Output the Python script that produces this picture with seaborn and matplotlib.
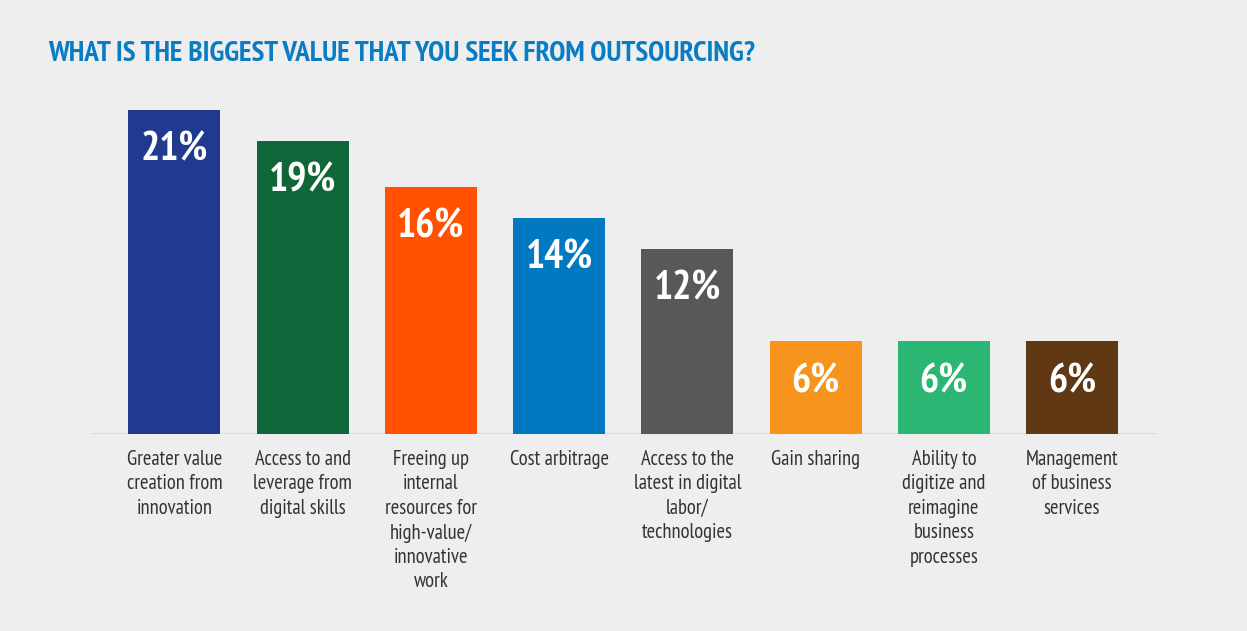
import matplotlib
matplotlib.use("Agg")
import matplotlib.pyplot as plt
import seaborn as sns
import pandas as pd

categories = [
    "Greater value\ncreation from\ninnovation",
    "Access to and\nleverage from\ndigital skills",
    "Freeing up\ninternal\nresources for\nhigh-value/\ninnovative\nwork",
    "Cost arbitrage",
    "Access to the\nlatest in digital\nlabor/\ntechnologies",
    "Gain sharing",
    "Ability to\ndigitize and\nreimagine\nbusiness\nprocesses",
    "Management\nof business\nservices",
]
values = [21, 19, 16, 14, 12, 6, 6, 6]
value_labels = ["21%", "19%", "16%", "14%", "12%", "6%", "6%", "6%"]
colors = ["#1f3a8f", "#0f6638", "#ff5100", "#0079c1",
          "#58585a", "#f7941d", "#2bb673", "#603813"]
title = "WHAT IS THE BIGGEST VALUE THAT YOU SEEK FROM OUTSOURCING?"

sns.set_theme(style="white")
plt.rcParams["font.family"] = ["PT Sans Narrow", "DejaVu Sans"]

BG = "#eeeeee"
fig = plt.figure(figsize=(12.47, 6.31), dpi=100, facecolor=BG)
ax = fig.add_axes([91 / 1247, 197 / 631, 1067 / 1247, 339.5 / 631])
ax.set_facecolor(BG)

df = pd.DataFrame({"cat": categories, "val": values})
sns.barplot(data=df, x="cat", y="val", hue="cat", palette=colors,
            width=0.717, dodge=False, legend=False, ax=ax, saturation=1,
            linewidth=0)

ax.set_xlim(-0.65, 7.67)
ax.set_ylim(0, 22)
ax.axhline(0, color="#d9d9d9", linewidth=2, zorder=0)
for s in ax.spines.values():
    s.set_visible(False)
ax.set_yticks([])
ax.set_xlabel("")
ax.set_ylabel("")
ax.tick_params(axis="x", length=0, pad=11.5)
ax.set_xticks(range(len(categories)))
ax.set_xticklabels(categories, fontsize=14.8, color="#333333", linespacing=1.36)

for i, (v, lab) in enumerate(zip(values, value_labels)):
    ax.annotate(lab, (i, v), xytext=(0, -29), textcoords="offset points",
                ha="center", va="center", color="white",
                fontsize=29, fontweight="bold")

fig.text(48 / 1247, 1 - 54 / 631, title, color="#0a7cc4", fontsize=21,
         fontweight="bold", ha="left", va="center")

fig.savefig("out.png", dpi=100, facecolor=BG)
